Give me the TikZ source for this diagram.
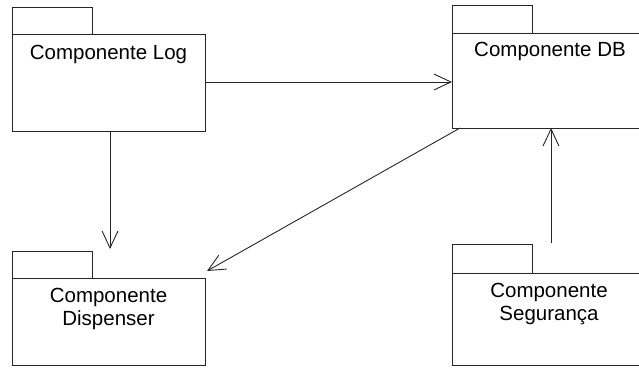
\documentclass[tikz,border=0pt]{standalone}
\usepackage{fontspec}
\setmainfont{Liberation Sans}
\usetikzlibrary{arrows.meta}
\begin{document}
\begin{tikzpicture}[x=1pt,y=-1pt,
  body/.style={draw=black!85, line width=0.9pt},
  tabbox/.style={draw=black!85, line width=0.9pt},
  lbl/.style={anchor=north, inner sep=0pt, align=center, font=\fontsize{20.5}{23}\selectfont},
  dep/.style={draw=black!85, line width=0.9pt, -{Straight Barb[length=17pt,width=16pt,line width=0.9pt]}}]
\useasboundingbox (0,0) rectangle (639,373);
\clip (0,0) rectangle (639,373);
% Componente Log
\draw[tabbox] (12,34) rectangle (92,7);
\draw[body] (12,34) rectangle (205,131);
\node[lbl] (log) at (108.5,45) {Componente Log};
\coordinate (logE) at (205,82);
\coordinate (logS) at (110,131);
% Componente DB
\draw[tabbox] (452,33) rectangle (532,5);
\draw[body] (452,33) rectangle (648,128);
\node[lbl] (db) at (550,42) {Componente DB};
\coordinate (dbW) at (452,82);
\coordinate (dbS) at (551,128);
\coordinate (dbSW) at (460,128);
% Componente Dispenser
\draw[tabbox] (12,278) rectangle (92,251);
\draw[body] (12,278) rectangle (205,365);
\node[lbl] (disp) at (108.5,288) {Componente\\Dispenser};
\coordinate (dispN) at (110,249);
\coordinate (dispNE) at (207,271);
% Componente Seguranca
\draw[tabbox] (452,273) rectangle (532,244);
\draw[body] (452,273) rectangle (648,365);
\node[lbl] (seg) at (549,283) {Componente\\Segurança};
\coordinate (segN) at (551,243);
% dependencies
\draw[dep] (logE) -- (dbW);
\draw[dep] (logS) -- (dispN);
\draw[dep] (dbSW) -- (dispNE);
\draw[dep] (segN) -- (dbS);
\end{tikzpicture}
\end{document}
